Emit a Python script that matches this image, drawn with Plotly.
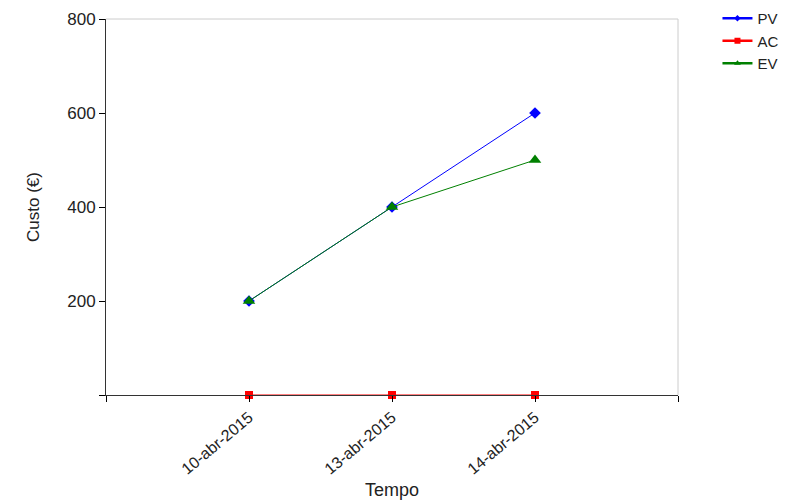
import plotly.graph_objects as go

dates = ["10-abr-2015", "13-abr-2015", "14-abr-2015"]
pv = [200, 400, 600]
ac = [0, 0, 0]
ev = [200, 400, 500]

xpos = [1, 2, 3]

series = [
    ("PV", pv, "#0000FF", "diamond", 9, 5),
    ("AC", ac, "#FF0000", "square", 8, 6),
    ("EV", ev, "#008000", "triangle-up", 11, 6),
]

fig = go.Figure()
for name, vals, color, sym, msize, lsize in series:
    fig.add_trace(go.Scatter(x=xpos, y=vals, name=name, mode="lines+markers",
                             line=dict(color=color, width=1), showlegend=False,
                             legendgroup=name, cliponaxis=False,
                             marker=dict(symbol=sym, size=msize, color=color)))
for name, vals, color, sym, msize, lsize in series:
    # legend-only entry (smaller marker, thicker line as in the reference legend)
    fig.add_trace(go.Scatter(x=[None], y=[None], name=name, mode="lines+markers",
                             legendgroup=name,
                             line=dict(color=color, width=2.5),
                             marker=dict(symbol=sym, size=lsize, color=color)))

W, H = 786, 492
fig.update_layout(
    width=W, height=H,
    margin=dict(l=98, r=116, t=11, b=105, autoexpand=False),
    plot_bgcolor="white", paper_bgcolor="white",
    font=dict(family="Liberation Sans, Arial, sans-serif", color="#222222"),
    showlegend=True,
    legend=dict(x=1.069, y=1.045, xanchor="left", yanchor="top",
                font=dict(size=15), tracegroupgap=0, itemwidth=30,
                bgcolor="rgba(0,0,0,0)"),
)
fig.update_xaxes(
    range=[0, 4], tickvals=[0, 1, 2, 3, 4], ticktext=[""] + dates + [""],
    tickangle=-40, tickfont=dict(size=16), ticks="outside", ticklen=6,
    tickcolor="black", showline=True, linecolor="#333333", linewidth=1,
    mirror=False, showgrid=False, zeroline=False, automargin=False,
    title=dict(text="Tempo", font=dict(size=18), standoff=6),
)
fig.update_yaxes(
    range=[0, 800], tickvals=[0, 200, 400, 600, 800], ticktext=["", "200", "400", "600", "800"],
    tickfont=dict(size=17), ticks="outside", ticklen=6, tickcolor="black",
    showline=True, linecolor="#333333", linewidth=1, showgrid=False, zeroline=False,
    automargin=False,
    title=dict(text="Custo (€)", font=dict(size=17), standoff=23),
)
# light gray top and right borders
fig.add_shape(type="line", xref="paper", yref="paper", x0=0, x1=1, y0=1, y1=1,
              line=dict(color="#CCCCCC", width=1))
fig.add_shape(type="line", xref="paper", yref="paper", x0=1, x1=1, y0=0, y1=1,
              line=dict(color="#CCCCCC", width=1))

fig.write_html("out.html")
